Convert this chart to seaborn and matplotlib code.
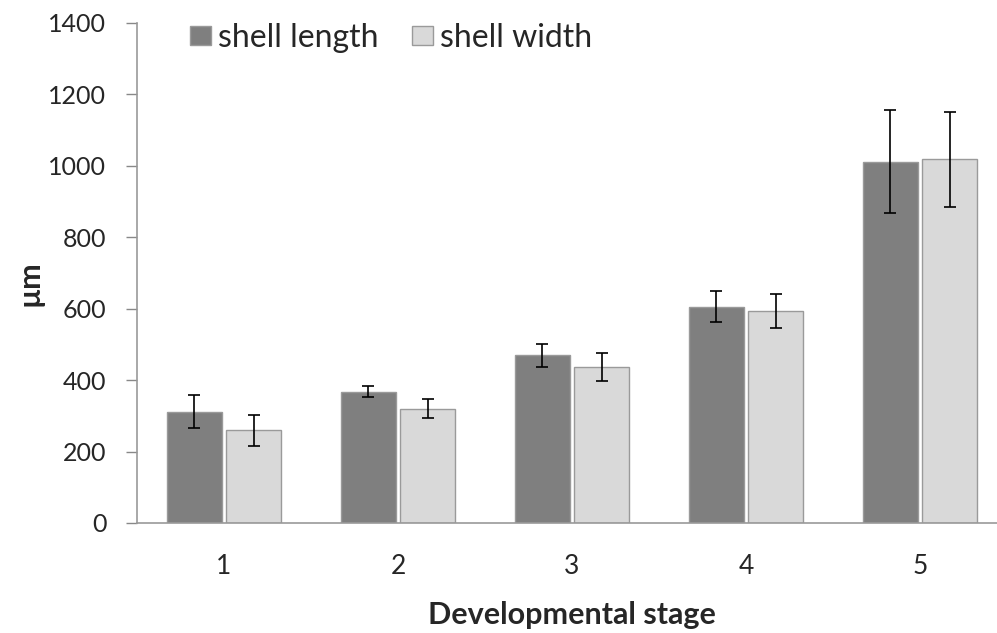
import matplotlib
matplotlib.use("Agg")
import matplotlib.pyplot as plt
import seaborn as sns
import pandas as pd
import numpy as np

stages = ["1", "2", "3", "4", "5"]
series = ["shell length", "shell width"]
length_mean = [312, 368, 470, 606, 1012]
length_err = [47, 15, 32, 43, 144]
width_mean = [260, 320, 437, 594, 1018]
width_err = [43, 27, 40, 47, 132]
yticks = [0, 200, 400, 600, 800, 1000, 1200, 1400]

df = pd.DataFrame({
    "stage": stages * 2,
    "series": [series[0]] * 5 + [series[1]] * 5,
    "value": length_mean + width_mean,
})

sns.set_style("white")
plt.rcParams["font.family"] = ["Lato", "DejaVu Sans"]

fig = plt.figure(figsize=(9.97, 6.33), dpi=100)
ax = fig.add_axes([137 / 997, 1 - 523 / 633, 870 / 997, 500 / 633])

sns.barplot(data=df, x="stage", y="value", hue="series", order=stages,
            hue_order=series, palette=["#7f7f7f", "#d9d9d9"],
            width=0.68, gap=0.07, errorbar=None, ax=ax,
            edgecolor="#9a9a9a", linewidth=1.0)

for cont, errs in zip(ax.containers, [length_err, width_err]):
    xs = [p.get_x() + p.get_width() / 2 for p in cont.patches]
    hs = [p.get_height() for p in cont.patches]
    ax.errorbar(xs, hs, yerr=errs, fmt="none", ecolor="black",
                elinewidth=1.2, capsize=4, capthick=1.2, zorder=5)

ax.set_ylim(0, 1400)
ax.set_xlim(-0.5, 4.5)
ax.set_yticks(yticks)
ax.set_yticklabels([str(v) for v in yticks], fontsize=18)
ax.tick_params(axis="y", length=8, width=1, color="#888888", pad=14, left=True)
ax.tick_params(axis="x", length=0, pad=22, labelsize=19)

for s in ["top", "right"]:
    ax.spines[s].set_visible(False)
for s in ["left", "bottom"]:
    ax.spines[s].set_color("#999999")
    ax.spines[s].set_linewidth(1.2)

ax.set_xlabel("Developmental stage", fontsize=22, fontweight="bold", labelpad=16)
ax.set_ylabel("µm", fontsize=22, fontweight="bold")
ax.yaxis.set_label_coords(-0.108, 0.48)

leg = ax.legend(loc="upper left", bbox_to_anchor=(0.061, 1.0), ncol=2,
                frameon=False, fontsize=23, handlelength=0.66, handleheight=0.56,
                handletextpad=0.22, columnspacing=1.05, borderpad=0,
                borderaxespad=0)

fig.savefig("out.png", dpi=100)
